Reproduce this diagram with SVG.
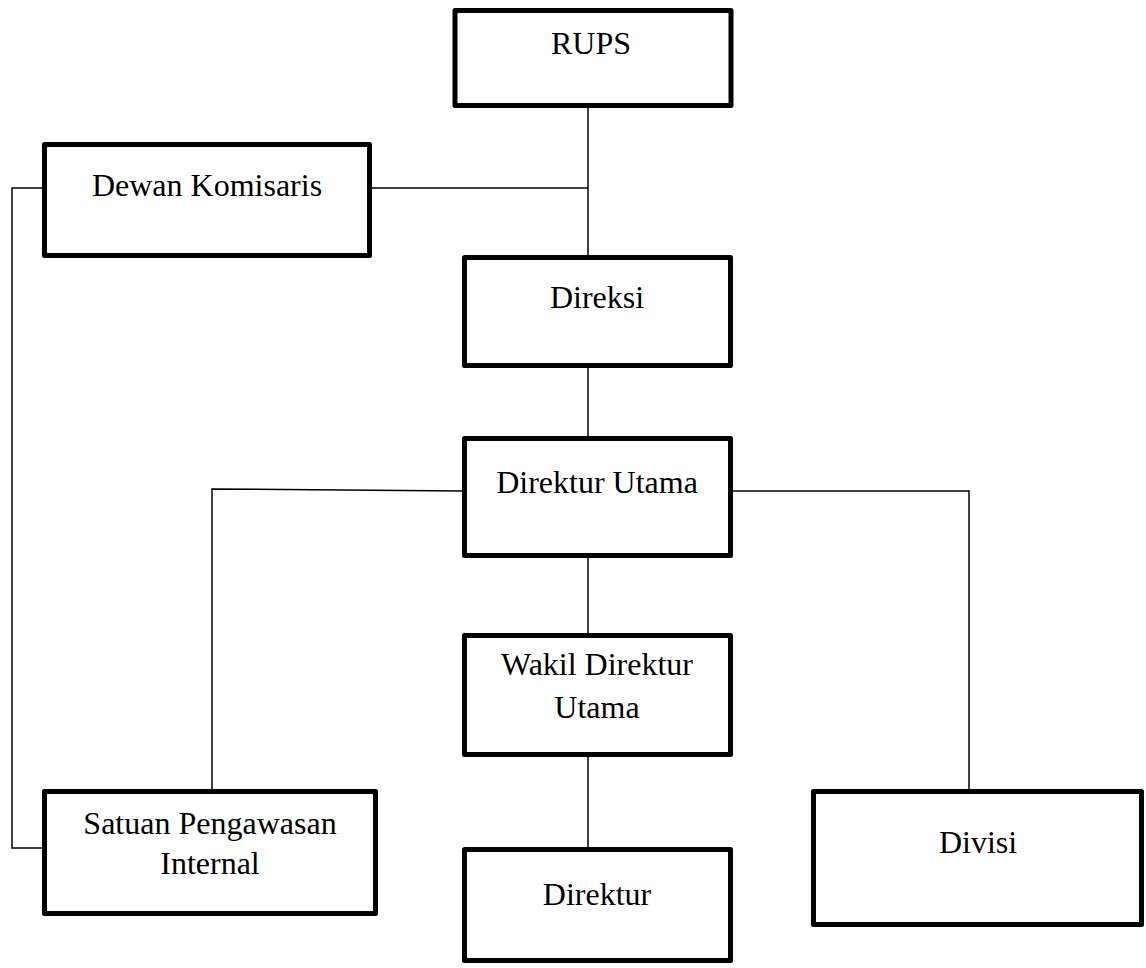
<svg xmlns="http://www.w3.org/2000/svg" width="1146" height="968" viewBox="0 0 1146 968">
  <style>
    .box { fill: #ffffff; stroke: #000000; stroke-width: 5; stroke-linejoin: round; }
    .lbl { font-family: "Liberation Serif", "Times New Roman", serif; font-size: 32px; fill: #000000; text-anchor: middle; }
    .link { fill: none; stroke: #000000; stroke-width: 1.5; }
  </style>
  <rect width="1146" height="968" fill="#ffffff"/>

  <!-- connectors -->
  <g id="connectors">
    <line class="link" x1="588" y1="108" x2="588" y2="255"/>
    <line class="link" x1="372" y1="188" x2="588" y2="188"/>
    <line class="link" x1="588" y1="368" x2="588" y2="436"/>
    <line class="link" x1="588" y1="558" x2="588" y2="633"/>
    <line class="link" x1="588" y1="757" x2="588" y2="847"/>
    <polyline class="link" points="462,491 212,489 212,789"/>
    <polyline class="link" points="733,491 969,491 969,789"/>
    <polyline class="link" points="42,188 12,188 12,848 42,848"/>
  </g>

  <!-- nodes -->
  <g id="rups">
    <rect class="box" x="455" y="10.5" width="276" height="95"/>
    <text class="lbl" x="591" y="54">RUPS</text>
  </g>
  <g id="dewan-komisaris">
    <rect class="box" x="44.5" y="144.5" width="325" height="111"/>
    <text class="lbl" x="207" y="196">Dewan Komisaris</text>
  </g>
  <g id="direksi">
    <rect class="box" x="464.5" y="257.5" width="266" height="108"/>
    <text class="lbl" x="597" y="308">Direksi</text>
  </g>
  <g id="direktur-utama">
    <rect class="box" x="464.5" y="438.5" width="266" height="117"/>
    <text class="lbl" x="597" y="493">Direktur Utama</text>
  </g>
  <g id="wakil-direktur-utama">
    <rect class="box" x="464.5" y="635.5" width="266" height="119"/>
    <text class="lbl" x="597" y="675">Wakil Direktur</text>
    <text class="lbl" x="597" y="718">Utama</text>
  </g>
  <g id="satuan-pengawasan-internal">
    <rect class="box" x="44.5" y="791.5" width="331" height="122"/>
    <text class="lbl" x="210" y="834">Satuan Pengawasan</text>
    <text class="lbl" x="210" y="874">Internal</text>
  </g>
  <g id="direktur">
    <rect class="box" x="464.5" y="849.5" width="266" height="111"/>
    <text class="lbl" x="597" y="905">Direktur</text>
  </g>
  <g id="divisi">
    <rect class="box" x="813.5" y="791.5" width="328" height="133"/>
    <text class="lbl" x="978" y="853">Divisi</text>
  </g>
</svg>
